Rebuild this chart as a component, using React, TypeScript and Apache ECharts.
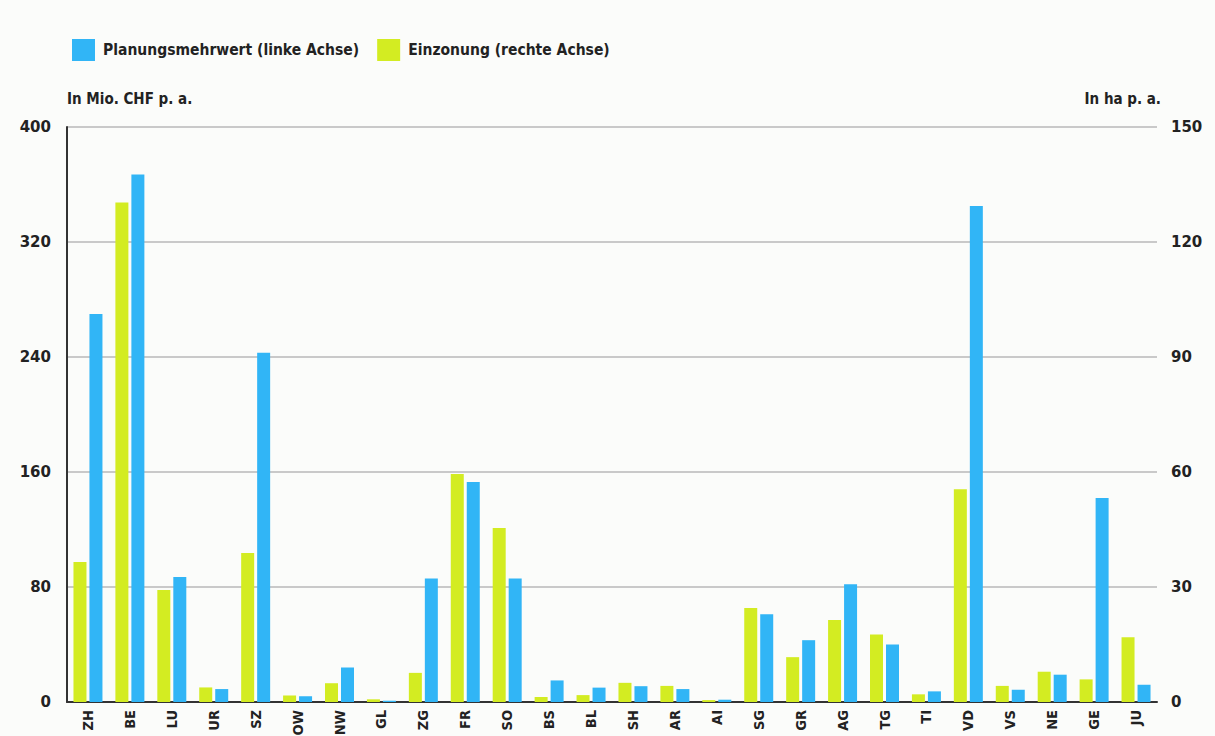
import React, { useEffect, useRef } from "react";
import * as echarts from "echarts";

const cantons = ["ZH","BE","LU","UR","SZ","OW","NW","GL","ZG","FR","SO","BS","BL","SH","AR","AI","SG","GR","AG","TG","TI","VD","VS","NE","GE","JU"];
// Planungsmehrwert, Mio. CHF p. a. (left axis)
const planungsmehrwert = [270,367,87,9,243,4,24,0.9,86,153,86,15,10,11,9,1.6,61,43,82,40,7.4,345,8.6,19,142,12];
// Einzonung, ha p. a. (right axis)
const einzonung = [36.5,130.3,29.2,3.8,38.9,1.7,4.9,0.7,7.6,59.5,45.4,1.3,1.8,5,4.2,0.5,24.5,11.7,21.4,17.6,2,55.5,4.2,7.9,5.9,16.9];
const leftTicks = { min: 0, max: 400, interval: 80 };
const rightTicks = { min: 0, max: 150, interval: 30 };

const BLUE = "#31b5f6";
const GREEN = "#d3ec22";
const NARROW = "'DejaVu Sans Condensed', 'DejaVu Sans', sans-serif";
const TICKFONT = "'DejaVu Sans', sans-serif";

export default function App() {
  const ref = useRef<HTMLDivElement>(null);
  useEffect(() => {
    if (!ref.current) return;
    const chart = echarts.init(ref.current, undefined, { renderer: "svg" });
    chart.setOption({
      animation: false,
      backgroundColor: "#fbfcfa",
      legend: {
        left: 67,
        top: 34,
        icon: "rect",
        itemWidth: 23,
        itemHeight: 22,
        itemGap: 18,
        data: ["Planungsmehrwert (linke Achse)", "Einzonung (rechte Achse)"],
        textStyle: { fontFamily: NARROW, fontWeight: "bold", fontSize: 15.5, color: "#222", padding: [0, 0, 0, 3] },
      },
      graphic: [
        { type: "text", left: 67, top: 91, style: { text: "In Mio. CHF p. a.", font: `bold 15px ${NARROW}`, fill: "#222" } },
        { type: "text", right: 54, top: 91, style: { text: "In ha p. a.", font: `bold 15px ${NARROW}`, fill: "#222" } },
      ],
      grid: { left: 67, right: 58, top: 127, bottom: 34, containLabel: false, outerBoundsMode: "none" },
      xAxis: {
        type: "category",
        data: cantons,
        axisLine: { lineStyle: { color: "#333", width: 2 } },
        axisTick: { show: false },
        axisLabel: { rotate: 90, margin: 8, fontWeight: "bold", fontSize: 14.5, color: "#222", fontFamily: NARROW, interval: 0 },
      },
      yAxis: [
        {
          type: "value",
          ...leftTicks,
          axisLine: { show: true, lineStyle: { color: "#333", width: 2 } },
          axisTick: { show: false },
          axisLabel: { margin: 16, fontWeight: "bold", fontSize: 15, color: "#222", fontFamily: TICKFONT },
          splitLine: { lineStyle: { color: "#b8b8b8", width: 1.5 } },
        },
        {
          type: "value",
          ...rightTicks,
          axisLine: { show: false },
          axisTick: { show: false },
          axisLabel: { margin: 14, fontWeight: "bold", fontSize: 15, color: "#222", fontFamily: TICKFONT },
          splitLine: { show: false },
        },
      ],
      series: [
        {
          name: "Einzonung (rechte Achse)",
          type: "bar",
          yAxisIndex: 1,
          data: einzonung,
          barWidth: 13,
          barGap: "23%",
          itemStyle: { color: GREEN },
        },
        {
          name: "Planungsmehrwert (linke Achse)",
          type: "bar",
          yAxisIndex: 0,
          data: planungsmehrwert,
          barWidth: 13,
          barGap: "23%",
          itemStyle: { color: BLUE },
        },
      ],
    });
    return () => chart.dispose();
  }, []);
  return <div ref={ref} style={{ position: "fixed", left: 0, top: 0, width: 1215, height: 736 }} />;
}
